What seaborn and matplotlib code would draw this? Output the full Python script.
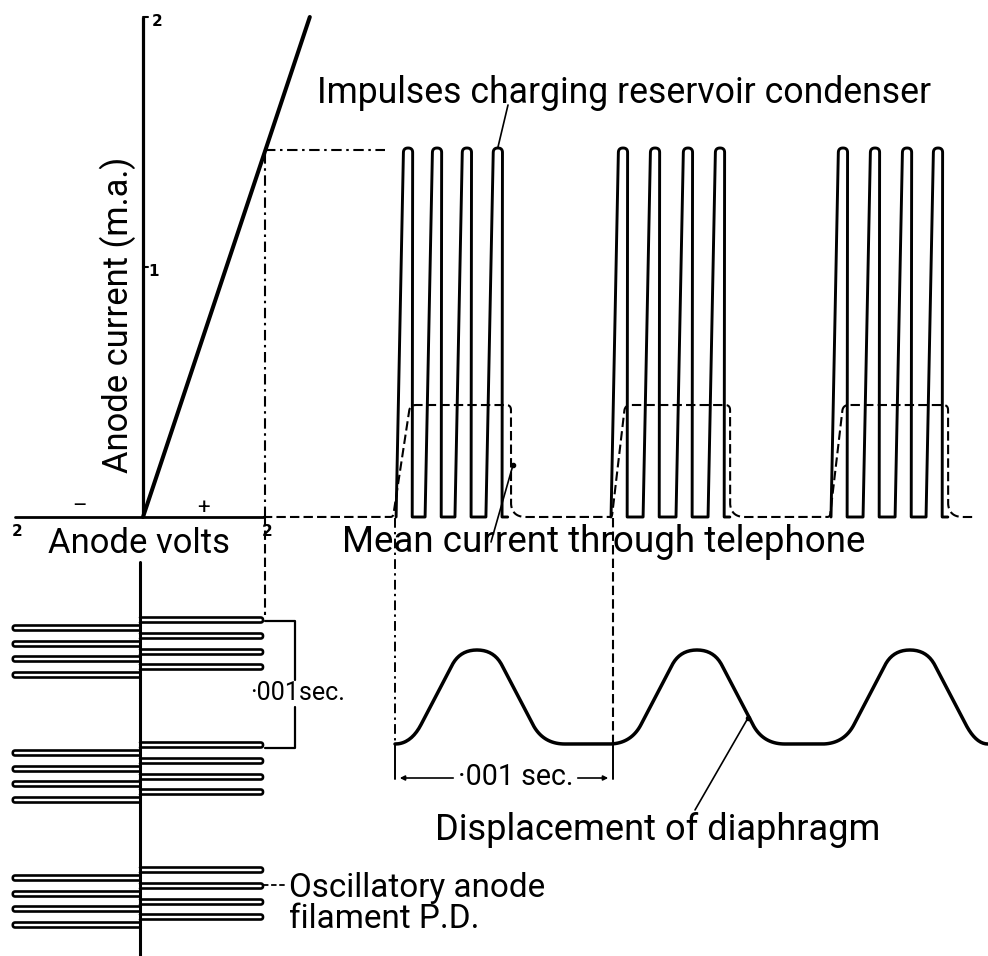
import numpy as np
import matplotlib
matplotlib.use("Agg")
import matplotlib.pyplot as plt
import seaborn as sns
from matplotlib.font_manager import FontProperties
from matplotlib.transforms import blended_transform_factory

# ---------------- data ----------------
# valve characteristic: anode volts -> anode current (mA)
char_volts = [0.0, 2.78]
char_ma = [0.0, 2.00]
op_volts = 2.03          # working point projected across the figure
op_ma = 1.47
current_tick_values = [1, 2]
volt_tick_labels = ["2", "2"]

# impulses charging reservoir condenser (time in ms, current in mA)
pulse_groups_ms = [
    [0.060, 0.193, 0.330, 0.472],
    [1.046, 1.193, 1.344, 1.491],
    [2.055, 2.202, 2.349, 2.491],
]
pulse_peak_ma = 1.476
pulse_lead_ms = 0.055
pulse_half_ms = 0.021
pulse_trail_ms = 0.019

# mean current through telephone
mean_current_ma = 0.448
mean_rise_start_ms = [-0.009, 0.995, 1.995]
mean_rise_end_ms = [0.069, 1.055, 2.055]
mean_fall_ms = [0.532, 1.537, 2.537]
mean_span_ms = [-0.606, 2.661]

# displacement of diaphragm (ms, relative units 0..1)
disp_peaks_ms = [0.376, 1.385, 2.362]
disp_base_half_ms = 0.303
disp_top_half_ms = 0.078
disp_span_ms = [0.0, 2.72]

# oscillatory anode filament P.D. (volts across, time in ms downward)
osc_group_start_ms = [0.0, 1.0, 2.0]
osc_pos_offsets_ms = [0.000, 0.128, 0.256, 0.376]
osc_neg_offsets_ms = [0.064, 0.192, 0.312, 0.440]
osc_pos_amp_v = 2.05
osc_neg_amp_v = -2.12
osc_loop_ms = 0.04

# ---------------- styling ----------------
sns.set_theme(style="white")
plt.rcParams["font.family"] = ["Roboto", "DejaVu Sans"]
FP = FontProperties(family=["Roboto", "DejaVu Sans"])

W, H = 988, 956
fig = plt.figure(figsize=(W / 100, H / 100), dpi=100, facecolor="white")
K = "black"


def make_axes(ox, kx, oy, ky, down=False):
    ax = fig.add_axes([0, 0, 1, 1], facecolor="none")
    ax.set_xlim(-ox / kx, (W - ox) / kx)
    if down:
        ax.set_ylim((H - oy) / ky, -oy / ky)
    else:
        ax.set_ylim(-(H - oy) / ky, oy / ky)
    ax.set_axis_off()
    return ax


ax_px = make_axes(0, 1, 0, 1, down=True)
ax_char = make_axes(143, 60, 517, 250)
ax_top = make_axes(395, 218, 517, 250)
ax_disp = make_axes(395, 218, 744, 94)
ax_osc = make_axes(140, 60, 620, 125, down=True)
SC = {ax_char: (60, 250), ax_top: (218, 250), ax_disp: (218, 94), ax_osc: (60, 125)}


def rounded(ax, xs, ys, radii, n=14):
    sx, sy = SC[ax]
    P = np.column_stack([np.asarray(xs, float) * sx, np.asarray(ys, float) * sy])
    out = [P[0]]
    last = len(P) - 1
    for i in range(1, last):
        r = radii[i]
        if r <= 0:
            out.append(P[i])
            continue
        a, b, c = P[i - 1], P[i], P[i + 1]
        d1 = np.linalg.norm(b - a)
        d2 = np.linalg.norm(c - b)
        r1 = min(r, d1 * (1.0 if i - 1 == 0 else 0.5))
        r2 = min(r, d2 * (1.0 if i + 1 == last else 0.5))
        p0 = b + (a - b) / d1 * r1
        p2 = b + (c - b) / d2 * r2
        tt = np.linspace(0, 1, n)[:, None]
        out.extend((1 - tt) ** 2 * p0 + 2 * (1 - tt) * tt * b + tt ** 2 * p2)
    out.append(P[-1])
    out = np.array(out)
    return out[:, 0] / sx, out[:, 1] / sy


def solid(ax, x, y, lw):
    sns.lineplot(x=np.asarray(x), y=np.asarray(y), ax=ax, sort=False,
                 estimator=None, color=K, lw=lw, legend=False)


DASHDOT = (0, (5, 2.2, 1.2, 2.2))
DASHED = (0, (4.5, 2.0))

# ---------------- characteristic ----------------
ax_char.plot([0, 0], [0, 2.0], color=K, lw=2.3, solid_capstyle="butt")
ax_char.plot([-2.13, 2.0], [0, 0], color=K, lw=2.0)
for v in current_tick_values:
    ax_char.plot([0, 0.08], [v, v], color=K, lw=1.5)
solid(ax_char, char_volts, char_ma, 2.9)
ax_char.plot([op_volts, op_volts], [0, op_ma], color=K, lw=1.5, ls=DASHDOT)
ax_char.plot([op_volts, 4.03], [op_ma, op_ma], color=K, lw=1.5, ls=DASHDOT)
ax_char.plot([op_volts, op_volts], [0, -0.39], color=K, lw=1.5, ls=DASHED)

# ---------------- impulses ----------------
for grp in pulse_groups_ms:
    xs, ys, rr = [], [], []
    for c in grp:
        xs += [c - pulse_lead_ms, c - pulse_half_ms, c + pulse_half_ms, c + pulse_trail_ms]
        ys += [0, pulse_peak_ma, pulse_peak_ma, 0]
        rr += [0, 4.6, 4.6, 0]
    xs.append(grp[-1] + 0.045)
    ys.append(0)
    rr.append(0)
    x, y = rounded(ax_top, xs, ys, rr, n=10)
    solid(ax_top, x, y, 2.1)

# mean current (dashed)
xs, ys, rr = [mean_span_ms[0]], [0], [0]
for rs, re, f in zip(mean_rise_start_ms, mean_rise_end_ms, mean_fall_ms):
    xs += [rs, re, f, f]
    ys += [0, mean_current_ma, mean_current_ma, 0]
    rr += [3, 6, 5, 15]
xs.append(mean_span_ms[1])
ys.append(0)
rr.append(0)
x, y = rounded(ax_top, xs, ys, rr)
ax_top.plot(x, y, color=K, lw=1.5, ls=DASHED)

# ---------------- displacement ----------------
xs, ys, rr = [disp_span_ms[0]], [0], [0]
for c in disp_peaks_ms:
    xs += [c - disp_base_half_ms, c - disp_top_half_ms, c + disp_top_half_ms, c + disp_base_half_ms]
    ys += [0, 1, 1, 0]
    rr += [22, 17, 17, 22]
xs.append(disp_span_ms[1])
ys.append(0)
rr.append(0)
x, y = rounded(ax_disp, xs, ys, rr, n=20)
solid(ax_disp, x, y, 2.5)

# ---------------- oscillatory P.D. ----------------
ax_osc.plot([0, 0], [-0.464, 2.7], color=K, lw=2.2)
h = osc_loop_ms / 2
for g in osc_group_start_ms:
    for offs, amp in ((osc_pos_offsets_ms, osc_pos_amp_v), (osc_neg_offsets_ms, osc_neg_amp_v)):
        for o in offs:
            t = g + o
            x, y = rounded(ax_osc, [0, amp, amp, 0], [t - h, t - h, t + h, t + h], [0, 2.5, 2.5, 0], n=8)
            solid(ax_osc, x, y, 1.9)

# ---------------- annotations (pixel space) ----------------
bt = blended_transform_factory(ax_top.transData, ax_px.transData)
ax_px.plot([0, 0], [518, 744], color=K, lw=1.4, ls=DASHDOT, transform=bt)
ax_px.plot([0, 0], [744, 779], color=K, lw=1.4, transform=bt)
ax_px.plot([1, 1], [518, 744], color=K, lw=1.5, ls=DASHED, transform=bt)
ax_px.plot([1, 1], [744, 779], color=K, lw=1.4, transform=bt)
ax_px.annotate("", xy=(397, 778), xytext=(456, 778),
               arrowprops=dict(arrowstyle="-|>", color=K, lw=1.2, mutation_scale=7))
ax_px.annotate("", xy=(611, 778), xytext=(575, 778),
               arrowprops=dict(arrowstyle="-|>", color=K, lw=1.2, mutation_scale=7))

# left bracket
ax_px.plot([265, 295, 295], [621, 621, 680], color=K, lw=1.6)
ax_px.plot([295, 295, 265], [707, 748, 748], color=K, lw=1.6)

# leaders
ax_px.plot([508, 498], [105, 147], color=K, lw=1.2)
ax_px.plot([513, 491], [465, 542], color=K, lw=1.2)
ax_px.plot([513], [465], "o", color=K, ms=3)
ax_px.plot([748, 695], [718, 810], color=K, lw=1.2)
ax_px.plot([748], [718], "o", color=K, ms=3)
ax_px.plot([263, 287], [885, 885], color=K, lw=1.3, ls=(0, (3, 1.5)))

renderer = fig.canvas.get_renderer()


def fit_text(x0, x1, y, s, size0=20, **kw):
    t = ax_px.text(x0, y, s, fontproperties=FP.copy(), ha="left", va="baseline", color=K, **kw)
    t.set_fontsize(size0)
    w = t.get_window_extent(renderer).width
    t.set_fontsize(size0 * (x1 - x0) / w)
    return t


fit_text(317, 930, 103, "Impulses charging reservoir condenser")
fit_text(48, 230, 553, "Anode volts")
fit_text(342, 864, 552, "Mean current through telephone")
fit_text(435, 880, 840, "Displacement of diaphragm")
fit_text(458, 573, 785, "·001 sec.", bbox=dict(fc="white", ec="none", pad=0.5))
fit_text(250, 345, 700, "·001sec.")
osc_t = fit_text(289, 545, 897, "Oscillatory anode")
t2 = ax_px.text(289, 928, "filament P.D.", fontproperties=FP.copy(), ha="left",
                va="baseline", color=K)
t2.set_fontsize(osc_t.get_fontsize())

tv = ax_px.text(118, 315, "Anode current (m.a.)", rotation=90, ha="center", va="center",
                fontproperties=FP.copy(), color=K)
tv.set_fontsize(20)
hgt = tv.get_window_extent(renderer).height
tv.set_fontsize(20 * 316 / hgt)

small = dict(fontsize=11, fontweight="bold", ha="center", va="center", color=K,
             family=["DejaVu Sans"])
ax_px.text(157, 21, str(current_tick_values[1]), **small)
ax_px.text(154, 272, str(current_tick_values[0]), **small)
ax_px.text(17, 532, volt_tick_labels[0], **small)
ax_px.text(267, 532, volt_tick_labels[1], **small)
ax_px.text(80, 506, "\u2013", fontsize=16, ha="center", va="center", color=K)
ax_px.text(203, 508, "+", fontsize=16, ha="center", va="center", color=K)

fig.savefig("out.png", dpi=100, facecolor="white")
